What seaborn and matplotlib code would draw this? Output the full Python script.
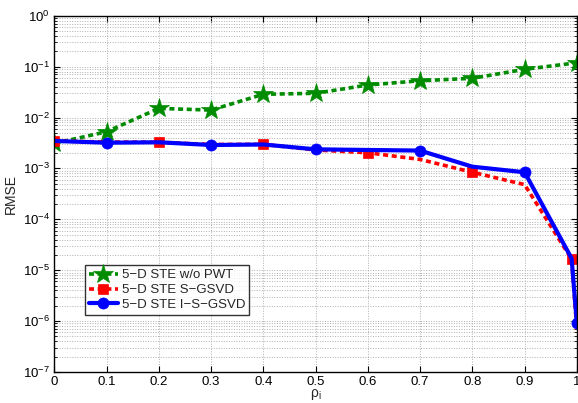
import numpy as np
import pandas as pd
import matplotlib
matplotlib.use("Agg")
import matplotlib.pyplot as plt
import seaborn as sns
from matplotlib.ticker import LogLocator, FixedLocator, NullFormatter

# Correlation coefficient values
rho_coarse = [0.0, 0.1, 0.2, 0.3, 0.4, 0.5, 0.6, 0.7, 0.8, 0.9, 1.0]
rho_fine = [0.0, 0.1, 0.2, 0.3, 0.4, 0.5, 0.6, 0.7, 0.8, 0.9, 0.99, 1.0]

# RMSE of each estimator
rmse_no_pwt = [3.1e-3, 5.25e-3, 1.51e-2, 1.40e-2, 2.86e-2, 2.99e-2,
               4.35e-2, 5.28e-2, 5.89e-2, 8.85e-2, 1.19e-1]
rmse_sgsvd = [3.46e-3, 3.3e-3, 3.26e-3, 2.95e-3, 2.97e-3, 2.3e-3,
              2.03e-3, 1.5e-3, 8.4e-4, 4.8e-4, 1.64e-5, 6.7e-7]
rmse_isgsvd = [3.46e-3, 3.2e-3, 3.26e-3, 2.88e-3, 2.95e-3, 2.37e-3,
               2.3e-3, 2.24e-3, 1.08e-3, 8.4e-4, 1.7e-5, 9.1e-7]

labels = ["5\u2212D STE w/o PWT", "5\u2212D STE S\u2212GSVD", "5\u2212D STE I\u2212S\u2212GSVD"]

sns.set_style("ticks")
plt.rcParams["font.family"] = ["Liberation Sans", "DejaVu Sans"]
plt.rcParams["mathtext.fontset"] = "custom"
plt.rcParams["mathtext.rm"] = "Liberation Sans"
plt.rcParams["mathtext.it"] = "Liberation Sans:italic"

fig = plt.figure(figsize=(5.78, 4.03), dpi=100)
ax = fig.add_axes([0.094, 0.077, 0.904, 0.884])

df_g = pd.DataFrame({"rho": rho_coarse, "rmse": rmse_no_pwt})
df_r = pd.DataFrame({"rho": rho_fine, "rmse": rmse_sgsvd})
df_b = pd.DataFrame({"rho": rho_fine, "rmse": rmse_isgsvd})

sns.lineplot(data=df_g, x="rho", y="rmse", ax=ax, color="#008c00",
             linestyle=(0, (1.4, 1.0)), linewidth=2.6, marker="*",
             markersize=15, markeredgewidth=0.5, markeredgecolor="#008c00",
             label=labels[0])
sns.lineplot(data=df_r, x="rho", y="rmse", ax=ax, color="#ff0000",
             linestyle=(0, (1.4, 1.0)), linewidth=2.6, marker="s",
             markersize=7, markeredgewidth=0.5, markeredgecolor="#ff0000",
             markevery=[0, 2, 4, 6, 8, 10], label=labels[1])
sns.lineplot(data=df_b, x="rho", y="rmse", ax=ax, color="#0000ff",
             linestyle="-", linewidth=3.0, marker="o",
             markersize=8, markeredgewidth=0.5, markeredgecolor="#0000ff",
             markevery=[1, 3, 5, 7, 9, 11], label=labels[2])

ax.set_yscale("log")
ax.set_xlim(0, 1)
ax.set_ylim(1e-7, 1e0)
ax.xaxis.set_major_locator(FixedLocator(rho_coarse))
ax.set_xticklabels(["0", "0.1", "0.2", "0.3", "0.4", "0.5", "0.6",
                    "0.7", "0.8", "0.9", "1"])
ax.yaxis.set_major_locator(LogLocator(base=10, numticks=10))
ax.yaxis.set_minor_locator(LogLocator(base=10, subs=np.arange(2, 10), numticks=20))
ax.yaxis.set_minor_formatter(NullFormatter())

ax.grid(True, which="major", axis="both", color="#b0b0b0", linestyle=(0, (1, 1.6)), linewidth=0.7)
ax.grid(True, which="minor", axis="y", color="#b0b0b0", linestyle=(0, (1, 1.6)), linewidth=0.7)
ax.set_axisbelow(True)

ax.tick_params(which="both", direction="in", top=True, right=True,
               labelsize=9.5, colors="black", pad=3)
ax.tick_params(which="major", length=4)
ax.tick_params(which="minor", length=2)
for s in ax.spines.values():
    s.set_linewidth(1.0)
    s.set_color("black")

ax.set_xlabel("\u03c1$_\\mathregular{i}$", fontsize=10, labelpad=-1)
ax.set_ylabel("RMSE", fontsize=10, labelpad=4)

leg = ax.legend(loc="lower left", bbox_to_anchor=(0.058, 0.16), fontsize=9.5,
                frameon=True, fancybox=False, edgecolor="black",
                handlelength=2.2, handletextpad=0.3, borderpad=0.3,
                labelspacing=0.2, borderaxespad=0)
leg.get_frame().set_linewidth(1.0)

fig.savefig("out.png", dpi=100)
